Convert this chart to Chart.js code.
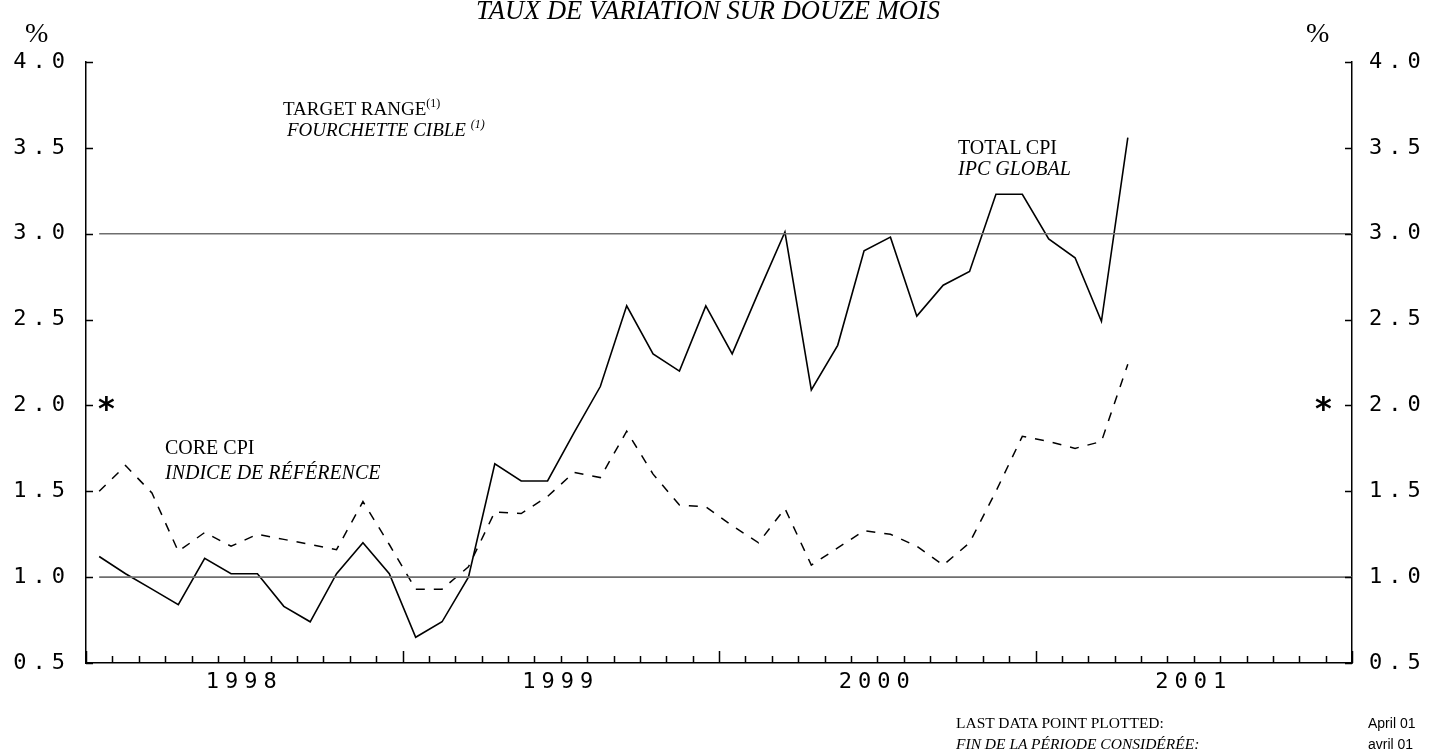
<!DOCTYPE html>
<html>
<head>
<meta charset="utf-8">
<script src="https://cdn.jsdelivr.net/npm/chart.js@4/dist/chart.umd.min.js"></script>
<style>
  body { margin: 0; background: #fff; }
  #wrap { position: relative; width: 1430px; height: 755px; overflow: hidden; }
  #c { position: absolute; left: 0; top: 0; }
  .t { position: absolute; white-space: nowrap; line-height: 1; color: #000; font-family: "Liberation Serif", "Times New Roman", serif; }
  .i { font-style: italic; }
  .s { font-family: "Liberation Sans", Arial, sans-serif; }
  .a { font-family: "DejaVu Sans", sans-serif; font-weight: bold; }
  sup { font-size: 12px; line-height: 0; vertical-align: 8px; }
</style>
</head>
<body>
<div id="wrap">
  <canvas id="c" width="1430" height="755"></canvas>
</div>
<script>
// monthly 12-month rates, Jan 1998 .. Apr 2001
const totalCpi = [1.12,1.02,0.93,0.84,1.11,1.02,1.02,0.83,0.74,1.02,1.20,1.02,
                  0.65,0.74,1.00,1.66,1.56,1.56,1.84,2.11,2.58,2.30,2.20,2.58,
                  2.30,2.66,3.01,2.09,2.35,2.90,2.98,2.52,2.70,2.78,3.23,3.23,
                  2.97,2.86,2.49,3.56];
const coreCpi  = [1.50,1.65,1.49,1.15,1.26,1.18,1.25,1.22,1.19,1.16,1.44,1.19,
                  0.93,0.93,1.06,1.38,1.37,1.47,1.61,1.58,1.85,1.60,1.42,1.41,
                  1.30,1.20,1.40,1.07,1.17,1.27,1.25,1.18,1.07,1.20,1.50,1.82,
                  1.79,1.75,1.79,2.24];
const yearLabels = ['1998','1999','2000','2001'];
const targetRange = [1.0, 3.0];
const nMonths = 48;

// month i is plotted at mid-month
const pts = arr => arr.map((v, i) => ({ x: i + 0.5, y: v }));
const targetLine = v => [{ x: 0.5, y: v }, { x: nMonths, y: v }];

const TICK_FONT = { family: 'DejaVu Sans Mono', size: 22 };

// inward tick marks + letter-spaced plotter style labels
const axisPlugin = {
  id: 'axisTicks',
  beforeDraw(chart) { chart.ctx.letterSpacing = '6px'; },
  afterDraw(chart) {
    const { ctx, chartArea: a, scales } = chart;
    ctx.save();
    ctx.letterSpacing = '0px';
    ctx.strokeStyle = '#000';
    ctx.lineWidth = 1.5;
    ctx.beginPath();
    for (let m = 0; m <= nMonths; m++) {
      const px = Math.round(scales.x.getPixelForValue(m)) + 0.5;
      const len = m % 12 === 0 ? 12 : 7;
      ctx.moveTo(px, a.bottom);
      ctx.lineTo(px, a.bottom - len);
    }
    for (let v = 0.5; v <= 4.0001; v += 0.5) {
      const py = Math.round(scales.y.getPixelForValue(v)) + 0.5;
      ctx.moveTo(a.left, py); ctx.lineTo(a.left + 7, py);
      ctx.moveTo(a.right, py); ctx.lineTo(a.right - 7, py);
    }
    ctx.stroke();
    ctx.restore();
    chart.ctx.letterSpacing = '0px';
  }
};

new Chart(document.getElementById('c'), {
  type: 'line',
  data: {
    datasets: [
      { label: 'low', data: targetLine(targetRange[0]), borderColor: '#6e6e6e', borderWidth: 1.6 },
      { label: 'high', data: targetLine(targetRange[1]), borderColor: '#6e6e6e', borderWidth: 1.6 },
      { label: 'TOTAL CPI', data: pts(totalCpi), borderColor: '#000', borderWidth: 1.6 },
      { label: 'CORE CPI', data: pts(coreCpi), borderColor: '#000', borderWidth: 1.5, borderDash: [9, 9] }
    ]
  },
  options: {
    responsive: false, animation: false,
    layout: { padding: { top: 62, left: 0, right: 0, bottom: 0 } },
    elements: { point: { radius: 0 }, line: { tension: 0 } },
    plugins: { legend: { display: false }, tooltip: { enabled: false } },
    scales: {
      x: {
        type: 'linear', min: 0, max: nMonths,
        grid: { display: false, drawTicks: false },
        border: { display: true, color: '#000', width: 1.5 },
        ticks: {
          stepSize: 6, autoSkip: false, maxRotation: 0, padding: 6,
          color: '#000', font: TICK_FONT,
          callback: v => (v % 12 === 6 ? yearLabels[(v - 6) / 12] : '')
        },
        afterFit: s => { s.height = 92; }
      },
      y: {
        position: 'left', min: 0.5, max: 4.0,
        grid: { display: false, drawTicks: false },
        border: { display: true, color: '#000', width: 1.5 },
        ticks: { stepSize: 0.5, padding: 15, color: '#000', font: TICK_FONT, callback: v => v.toFixed(1) },
        afterFit: s => { s.width = 86; }
      },
      y2: {
        position: 'right', min: 0.5, max: 4.0,
        grid: { display: false, drawTicks: false },
        border: { display: true, color: '#000', width: 1.5 },
        ticks: { stepSize: 0.5, padding: 17, color: '#000', font: TICK_FONT, callback: v => v.toFixed(1) },
        afterFit: s => { s.width = 78; }
      }
    }
  },
  plugins: [axisPlugin]
});

// text annotations, placed by baseline
function label(html, x, base, size, cls) {
  const d = document.createElement('div');
  d.className = 't ' + (cls || '');
  d.style.fontSize = size + 'px';
  d.style.left = x + 'px';
  d.style.top = (base - 0.8375 * size) + 'px';
  d.innerHTML = html;
  document.getElementById('wrap').appendChild(d);
}
label('TAUX DE VARIATION SUR DOUZE MOIS', 476, 19, 26.5, 'i');
label('%', 25, 42, 28);
label('%', 1306, 42, 28);
label('TARGET RANGE<sup>(1)</sup>', 283, 115, 19);
label('FOURCHETTE CIBLE <sup>(1)</sup>', 287, 136, 19, 'i');
label('TOTAL CPI', 958, 154, 20);
label('IPC GLOBAL', 958, 175, 20, 'i');
label('CORE CPI', 165, 454, 20);
label('INDICE DE RÉFÉRENCE', 165, 479, 20, 'i');
label('*', 98, 419, 32, 'a');
label('*', 1315, 419, 32, 'a');
label('LAST DATA POINT PLOTTED:', 956, 728, 15.5);
label('FIN DE LA PÉRIODE CONSIDÉRÉE:', 956, 749, 15.5, 'i');
label('April 01', 1368, 728, 14, 's');
label('avril 01', 1368, 749, 14, 's');
</script>
</body>
</html>
